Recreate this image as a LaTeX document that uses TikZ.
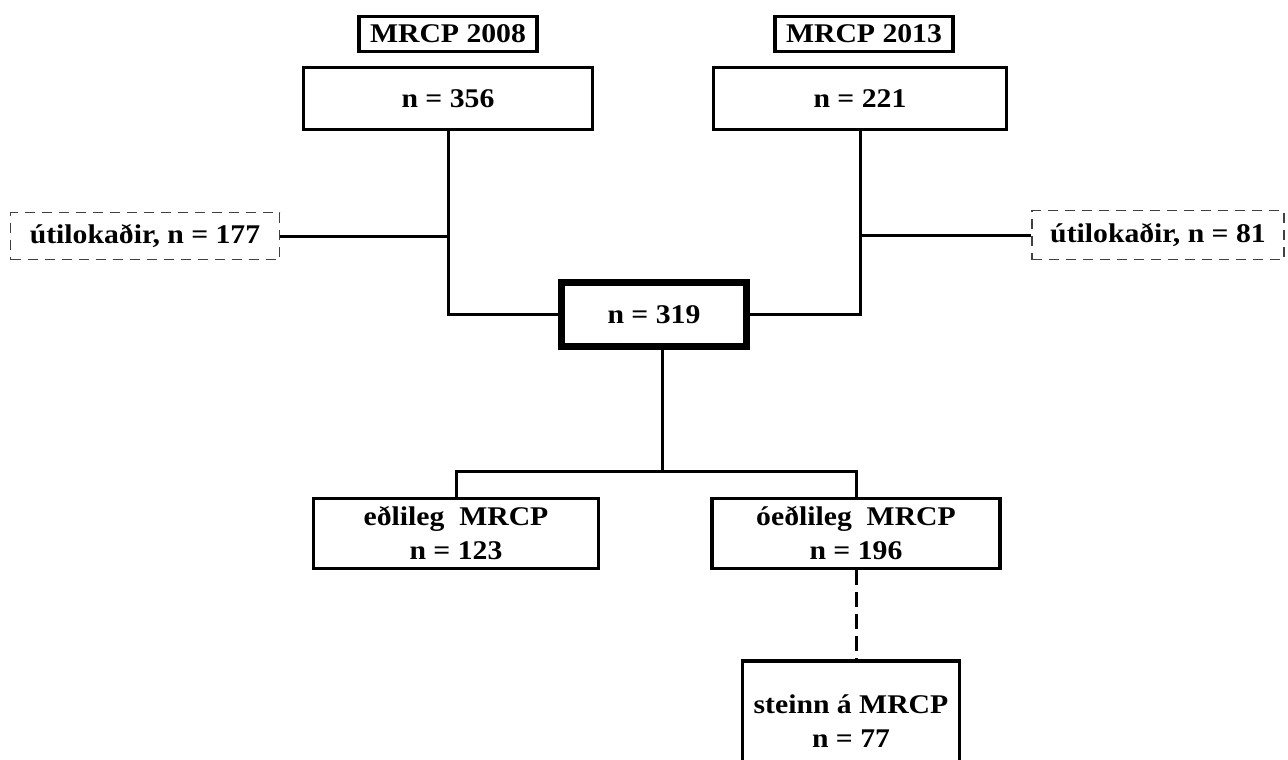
\documentclass[tikz,border=0pt]{standalone}
\usepackage{fontspec}
\setmainfont{Liberation Serif}[FakeStretch=1.1]
\usepackage{tikz}
\usetikzlibrary{positioning}

\begin{document}
\begin{tikzpicture}[
    x=1pt, y=-1pt,
    every node/.style={
        anchor=center,
        align=center,
        inner sep=0pt,
        font=\fontsize{27}{34}\selectfont\bfseries
    },
    yearbox/.style={draw, line width=3.5pt, minimum width=178pt, minimum height=35pt},
    countbox/.style={draw, line width=3.2pt},
    mainbox/.style={draw, line width=7pt, minimum width=185pt, minimum height=64pt},
    exbox/.style={draw=black!75, line width=1.6pt, dash pattern=on 10pt off 7pt},
    link/.style={line width=3pt}
]
\clip (0,0) rectangle (1288,760);

% sources
\node[yearbox] (y08) at (448,34) {MRCP 2008};
\node[yearbox] (y13) at (864,34) {MRCP 2013};
\node[countbox, minimum width=289pt, minimum height=62pt] (n356) at (448,98.5) {n = 356};
\node[countbox, minimum width=293pt, minimum height=62pt] (n221) at (860,98.5) {n = 221};

% excluded
\node[exbox, minimum width=269pt, minimum height=47pt] (ex1) at (145,236) {útilokaðir, n = 177};
\node[exbox, minimum width=252pt, minimum height=49pt] (ex2) at (1158,235) {útilokaðir, n = 81};

% merged
\node[mainbox] (n319) at (654,314.5) {n = 319};

% outcome
\node[countbox, minimum width=285pt, minimum height=70pt] (ok) at (456,533.5) {eðlileg\ \ MRCP\\n = 123};
\node[countbox, minimum width=288pt, minimum height=70pt] (abn) at (856,533.5) {óeðlileg\ \ MRCP\\n = 196};
\node[countbox, minimum width=217pt, minimum height=120pt] (stone) at (851,721) {steinn á MRCP\\n = 77};

\coordinate (fork) at (662,472);

\draw[link] (n356.south) |- (n319.west);
\draw[link] (n221.south) |- (n319.east);
\draw[link] (ex1.east) -- (ex1.east -| n356.south);
\draw[link] (ex2.west) -- (ex2.west -| n221.south);
\draw[link] (n319.south -| fork) -- (fork);
\draw[link] (ok.north) -- ++(0,-25) -| (abn.north);
\draw[link, dash pattern=on 15pt off 7pt] (abn.south) -- (abn.south |- stone.north);
\end{tikzpicture}
\end{document}
